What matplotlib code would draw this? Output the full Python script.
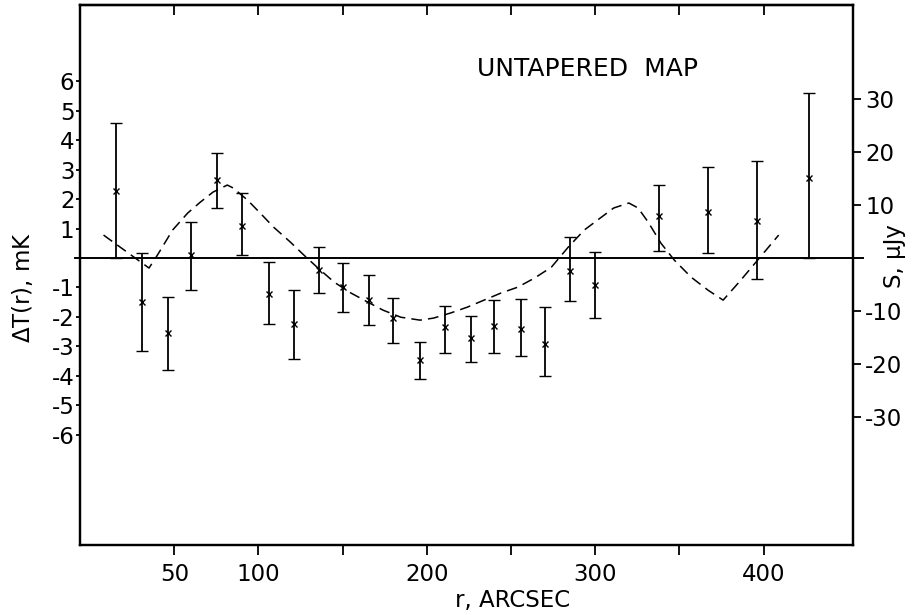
import numpy as np
import matplotlib.pyplot as plt

plt.rcParams['font.family'] = 'DejaVu Sans'
plt.rcParams['axes.unicode_minus'] = False

# measured points, radius in arcsec, dT in mK
r_obs = [15.5, 31, 46.5, 60, 75.5, 90, 106.5, 121, 136, 150, 165.5, 180,
         196, 211, 226, 240, 256, 270, 285, 300, 338, 367, 396, 427]
dT_obs = [2.28, -1.5, -2.55, 0.1, 2.65, 1.09, -1.22, -2.24, -0.4, -0.99, -1.43, -2.04,
          -3.47, -2.35, -2.73, -2.31, -2.41, -2.93, -0.44, -0.92, 1.43, 1.56, 1.26, 2.72]
dT_hi = [4.59, 0.17, -1.33, 1.22, 3.57, 2.2, -0.14, -1.09, 0.37, -0.17, -0.58, -1.36,
         -2.86, -1.63, -1.97, -1.43, -1.39, -1.67, 0.71, 0.2, 2.48, 3.1, 3.3, 5.61]
dT_lo = [0.0, -3.16, -3.8, -1.09, 1.7, 0.1, -2.24, -3.44, -1.2, -1.84, -2.28, -2.9,
         -4.12, -3.23, -3.54, -3.23, -3.33, -4.01, -1.46, -2.04, 0.24, 0.17, -0.71, 0.0]

# model curve (dashed)
r_model = [8, 35, 40, 49, 58, 65.5, 73, 81.5, 85, 93.5, 101, 109, 119, 127, 135,
           145, 155, 165, 174, 184.5, 196, 204, 214, 224, 234, 244, 254, 264, 274,
           284, 293.5, 303.5, 311, 320, 325.5, 331.5, 339, 347, 357, 367, 376, 385,
           393, 399, 409]
dT_model = [0.78, -0.34, 0.10, 0.95, 1.53, 1.90, 2.24, 2.48, 2.38, 1.97, 1.53, 1.05,
            0.54, 0.10, -0.32, -0.82, -1.19, -1.50, -1.77, -2.01, -2.11, -2.04, -1.87,
            -1.67, -1.43, -1.19, -0.99, -0.68, -0.31, 0.37, 0.95, 1.38, 1.70, 1.87,
            1.70, 1.22, 0.51, -0.07, -0.65, -1.09, -1.43, -0.85, -0.31, 0.10, 0.78]

x_ticks = [50, 100, 150, 200, 250, 300, 350, 400]
x_labels = ['50', '100', '', '200', '', '300', '', '400']
left_ticks = [-6, -5, -4, -3, -2, -1, 1, 2, 3, 4, 5, 6]
right_ticks = [-30, -20, -10, 10, 20, 30]
mK_to_uJy = 5.55

fig = plt.figure(figsize=(9.14, 6.15), dpi=100)
ax = fig.add_axes([0.0875, 0.1138, 0.8455, 0.8782])

r = np.array(r_obs)
y = np.array(dT_obs)
err = [y - np.array(dT_lo), np.array(dT_hi) - y]
ax.errorbar(r, y, yerr=err, fmt='x', color='black', ms=4.5, mew=1.0,
            elinewidth=1.3, capsize=4, capthick=1.6)
ax.plot(r_model, dT_model, color='black', lw=1.1, dashes=(7, 4))
ax.axhline(0, xmin=-0.006, xmax=1.013, color='black', lw=1.4, clip_on=False)

ax.set_xlim(-6, 453)
ax.set_ylim(-9.75, 8.6)
ax.set_xticks(x_ticks)
ax.set_xticklabels(x_labels, fontsize=16.5)
ax.set_yticks(left_ticks)
ax.set_yticklabels([str(t) for t in left_ticks], fontsize=16.5)
ax.tick_params(axis='x', direction='out', length=7, width=1.3, pad=6)
ax.tick_params(axis='y', direction='out', length=3, width=1.3, pad=1)
for s in ax.spines.values():
    s.set_linewidth(1.6)

top = ax.secondary_xaxis('top')
top.set_xticks(x_ticks)
top.set_xticklabels([])
top.tick_params(direction='in', length=7, width=1.3)
top.spines['top'].set_linewidth(1.6)

ax2 = ax.twinx()
ax2.set_ylim(-9.75 * mK_to_uJy, 8.6 * mK_to_uJy)
ax2.set_yticks(right_ticks)
ax2.set_yticklabels([str(t) for t in right_ticks], fontsize=16.5)
ax2.tick_params(axis='y', direction='out', length=6, width=1.3, pad=3)
for s in ax2.spines.values():
    s.set_linewidth(1.6)

ax.text(0.657, 0.881, 'UNTAPERED  MAP', transform=ax.transAxes, fontsize=18,
        ha='center', va='center')
fig.text(0.025, 0.532, r'$\Delta$T(r), mK', rotation=90, fontsize=16.5,
         ha='center', va='center')
fig.text(0.979, 0.584, 'S, \u03bcJy', rotation=90, fontsize=16.5,
         ha='center', va='center')
fig.text(0.561, 0.024, 'r, ARCSEC', fontsize=16.5, ha='center', va='center')

fig.savefig('out.png', dpi=100)
